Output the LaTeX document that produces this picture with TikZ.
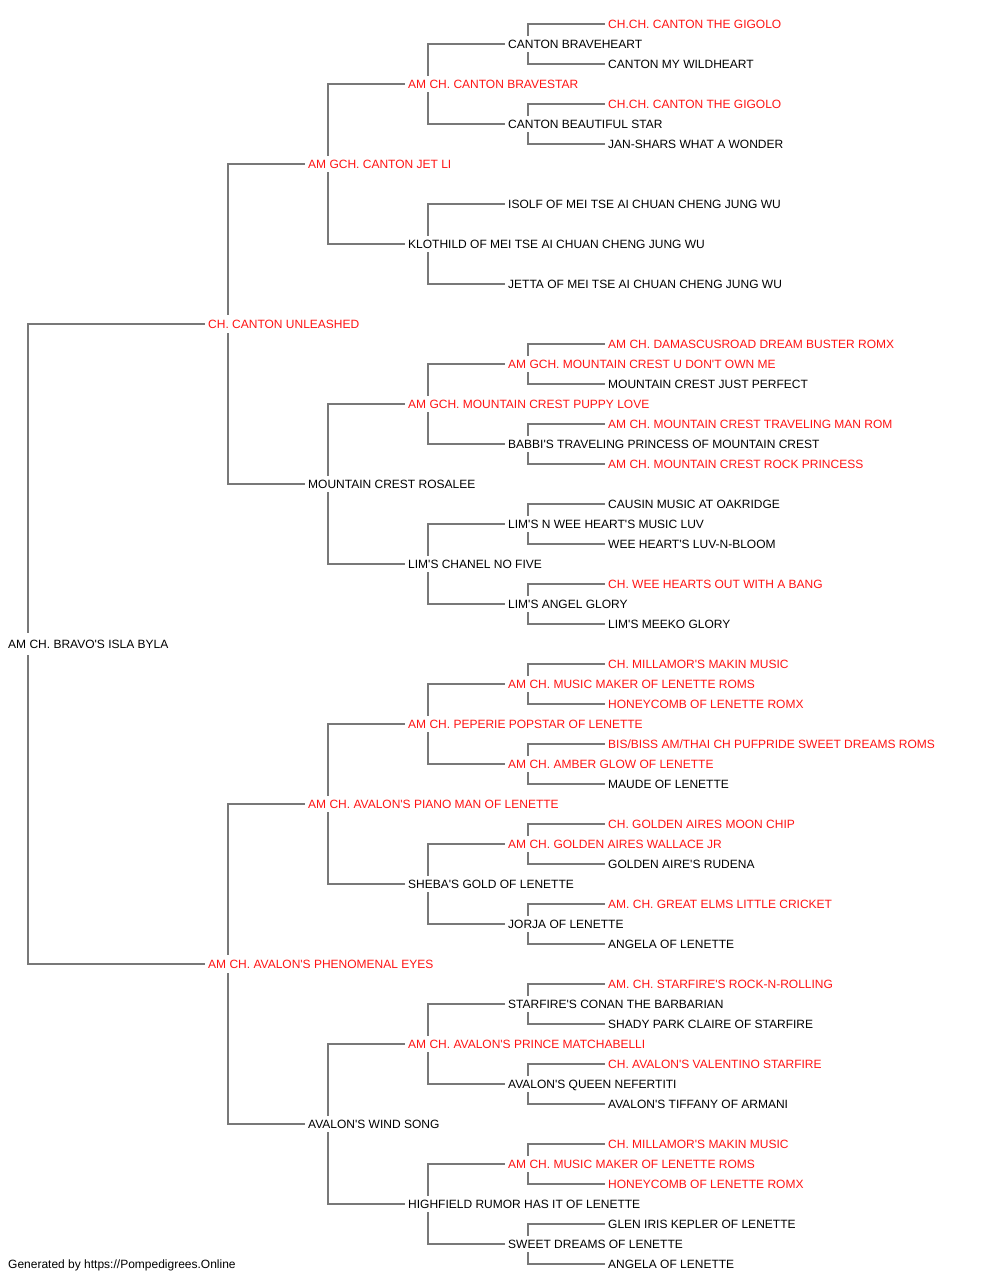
\documentclass[tikz,border=0pt]{standalone}
\usepackage{fontspec}
\setmainfont{Liberation Sans}[Ligatures=TeXOff]
\usetikzlibrary{backgrounds}

\definecolor{linegray}{RGB}{120,120,120}
\definecolor{champred}{RGB}{255,20,20}

\tikzset{
  dog/.style={anchor=west, fill=white, inner xsep=3pt, inner ysep=3pt,
    text height=9.5pt, text depth=1pt, font=\fontsize{12}{14}\selectfont},
  champ/.style={dog, text=champred},
  link/.style={draw=linegray, line width=1.8pt}
}

\begin{document}
\begin{tikzpicture}[x=1pt,y=-1pt]
        \useasboundingbox (0,0) rectangle (1000,1280);
        % dog itself
        \node[dog, inner ysep=6pt] (r) at (5,644) {AM CH. BRAVO'S ISLA BYLA};
        % parents
        \node[champ, inner ysep=4pt] (rs) at (205,324) {CH. CANTON UNLEASHED};
        \node[champ, inner ysep=4pt] (rd) at (205,964) {AM CH. AVALON'S PHENOMENAL EYES};
        % grandparents
        \node[champ] (rss) at (305,164) {AM GCH. CANTON JET LI};
        \node[dog] (rsd) at (305,484) {MOUNTAIN CREST ROSALEE};
        \node[champ] (rds) at (305,804) {AM CH. AVALON'S PIANO MAN OF LENETTE};
        \node[dog] (rdd) at (305,1124) {AVALON'S WIND SONG};
        % great-grandparents
        \node[champ] (rsss) at (405,84) {AM CH. CANTON BRAVESTAR};
        \node[dog] (rssd) at (405,244) {KLOTHILD OF MEI TSE AI CHUAN CHENG JUNG WU};
        \node[champ] (rsds) at (405,404) {AM GCH. MOUNTAIN CREST PUPPY LOVE};
        \node[dog] (rsdd) at (405,564) {LIM'S CHANEL NO FIVE};
        \node[champ] (rdss) at (405,724) {AM CH. PEPERIE POPSTAR OF LENETTE};
        \node[dog] (rdsd) at (405,884) {SHEBA'S GOLD OF LENETTE};
        \node[champ] (rdds) at (405,1044) {AM CH. AVALON'S PRINCE MATCHABELLI};
        \node[dog] (rddd) at (405,1204) {HIGHFIELD RUMOR HAS IT OF LENETTE};
        % 4th generation
        \node[dog] (rssss) at (505,44) {CANTON BRAVEHEART};
        \node[dog] (rsssd) at (505,124) {CANTON BEAUTIFUL STAR};
        \node[dog] (rssds) at (505,204) {ISOLF OF MEI TSE AI CHUAN CHENG JUNG WU};
        \node[dog] (rssdd) at (505,284) {JETTA OF MEI TSE AI CHUAN CHENG JUNG WU};
        \node[champ] (rsdss) at (505,364) {AM GCH. MOUNTAIN CREST U DON'T OWN ME};
        \node[dog] (rsdsd) at (505,444) {BABBI'S TRAVELING PRINCESS OF MOUNTAIN CREST};
        \node[dog] (rsdds) at (505,524) {LIM'S N WEE HEART'S MUSIC LUV};
        \node[dog] (rsddd) at (505,604) {LIM'S ANGEL GLORY};
        \node[champ] (rdsss) at (505,684) {AM CH. MUSIC MAKER OF LENETTE ROMS};
        \node[champ] (rdssd) at (505,764) {AM CH. AMBER GLOW OF LENETTE};
        \node[champ] (rdsds) at (505,844) {AM CH. GOLDEN AIRES WALLACE JR};
        \node[dog] (rdsdd) at (505,924) {JORJA OF LENETTE};
        \node[dog] (rddss) at (505,1004) {STARFIRE'S CONAN THE BARBARIAN};
        \node[dog] (rddsd) at (505,1084) {AVALON'S QUEEN NEFERTITI};
        \node[champ] (rddds) at (505,1164) {AM CH. MUSIC MAKER OF LENETTE ROMS};
        \node[dog] (rdddd) at (505,1244) {SWEET DREAMS OF LENETTE};
        % 5th generation
        \node[champ] (rsssss) at (605,24) {CH.CH. CANTON THE GIGOLO};
        \node[dog] (rssssd) at (605,64) {CANTON MY WILDHEART};
        \node[champ] (rsssds) at (605,104) {CH.CH. CANTON THE GIGOLO};
        \node[dog] (rsssdd) at (605,144) {JAN-SHARS WHAT A WONDER};
        \node[champ] (rsdsss) at (605,344) {AM CH. DAMASCUSROAD DREAM BUSTER ROMX};
        \node[dog] (rsdssd) at (605,384) {MOUNTAIN CREST JUST PERFECT};
        \node[champ] (rsdsds) at (605,424) {AM CH. MOUNTAIN CREST TRAVELING MAN ROM};
        \node[champ] (rsdsdd) at (605,464) {AM CH. MOUNTAIN CREST ROCK PRINCESS};
        \node[dog] (rsddss) at (605,504) {CAUSIN MUSIC AT OAKRIDGE};
        \node[dog] (rsddsd) at (605,544) {WEE HEART'S LUV-N-BLOOM};
        \node[champ] (rsddds) at (605,584) {CH. WEE HEARTS OUT WITH A BANG};
        \node[dog] (rsdddd) at (605,624) {LIM'S MEEKO GLORY};
        \node[champ] (rdssss) at (605,664) {CH. MILLAMOR'S MAKIN MUSIC};
        \node[champ] (rdsssd) at (605,704) {HONEYCOMB OF LENETTE ROMX};
        \node[champ] (rdssds) at (605,744) {BIS/BISS AM/THAI CH PUFPRIDE SWEET DREAMS ROMS};
        \node[dog] (rdssdd) at (605,784) {MAUDE OF LENETTE};
        \node[champ] (rdsdss) at (605,824) {CH. GOLDEN AIRES MOON CHIP};
        \node[dog] (rdsdsd) at (605,864) {GOLDEN AIRE'S RUDENA};
        \node[champ] (rdsdds) at (605,904) {AM. CH. GREAT ELMS LITTLE CRICKET};
        \node[dog] (rdsddd) at (605,944) {ANGELA OF LENETTE};
        \node[champ] (rddsss) at (605,984) {AM. CH. STARFIRE'S ROCK-N-ROLLING};
        \node[dog] (rddssd) at (605,1024) {SHADY PARK CLAIRE OF STARFIRE};
        \node[champ] (rddsds) at (605,1064) {CH. AVALON'S VALENTINO STARFIRE};
        \node[dog] (rddsdd) at (605,1104) {AVALON'S TIFFANY OF ARMANI};
        \node[champ] (rdddss) at (605,1144) {CH. MILLAMOR'S MAKIN MUSIC};
        \node[champ] (rdddsd) at (605,1184) {HONEYCOMB OF LENETTE ROMX};
        \node[dog] (rdddds) at (605,1224) {GLEN IRIS KEPLER OF LENETTE};
        \node[dog] (rddddd) at (605,1264) {ANGELA OF LENETTE};
        % footer
        \node[dog, fill=none] (credit) at (5,1264) {Generated by https://Pompedigrees.Online};

        % brackets behind the names
        \begin{pgfonlayer}{background}
        \foreach \p in {r,rs,rd,rss,rsd,rds,rdd,rsss,rssd,rsds,rsdd,rdss,rdsd,rdds,rddd,
                        rssss,rsssd,rsdss,rsdsd,rsdds,rsddd,rdsss,rdssd,rdsds,rdsdd,
                        rddss,rddsd,rddds,rdddd}
                \draw[link] (\p s.west) -| ([xshift=23pt]\p.west) |- (\p d.west);
        \end{pgfonlayer}
\end{tikzpicture}
\end{document}
